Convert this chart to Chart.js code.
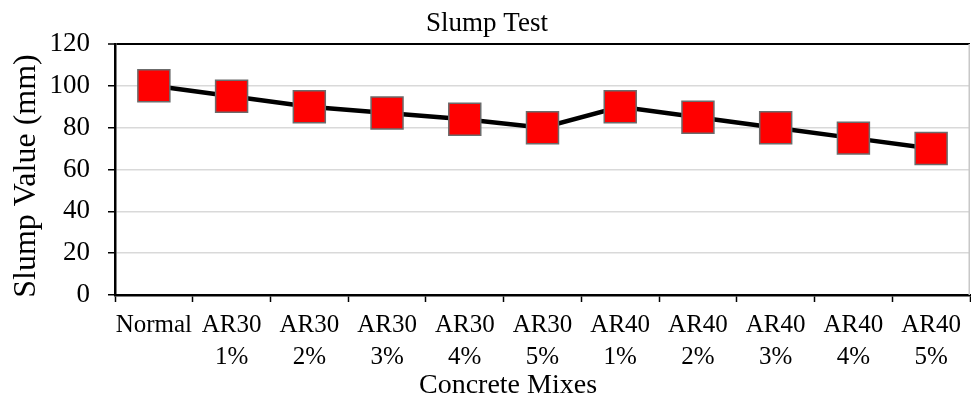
<!DOCTYPE html>
<html lang="en">
<head>
<meta charset="utf-8" />
<title>Slump Test</title>
<script src="https://cdn.jsdelivr.net/npm/chart.js@4/dist/chart.umd.min.js"></script>
<style>
  html, body { margin: 0; padding: 0; background: #fff; }
  #wrap { width: 971px; height: 400px; }
</style>
</head>
<body>
<div id="wrap"><canvas id="myChart"></canvas></div>
<script>
// data
var mixes = [
    'Normal',
    ['AR30', '1%'], ['AR30', '2%'], ['AR30', '3%'], ['AR30', '4%'], ['AR30', '5%'],
    ['AR40', '1%'], ['AR40', '2%'], ['AR40', '3%'], ['AR40', '4%'], ['AR40', '5%']
];
var slump = [100, 95, 90, 87, 84, 80, 90, 85, 80, 75, 70];
var yTicks = [0, 20, 40, 60, 80, 100, 120];

var xTitle = 'Concrete Mixes';
var yTitle = 'Slump Value (mm)';

var serif = '"Liberation Serif", "Times New Roman", serif';

// grey right frame line + axis titles (placed like the original, not centred on the plot)
var extras = {
    id: 'extras',
    beforeDatasetsDraw: function(chart) {
        var a = chart.chartArea, c = chart.ctx;
        c.save();
        c.strokeStyle = '#c8c8c8';
        c.lineWidth = 1.5;
        c.beginPath();
        c.moveTo(a.right - 0.75, a.top);
        c.lineTo(a.right - 0.75, a.bottom);
        c.stroke();
        c.restore();
    },
    afterDraw: function(chart) {
        var c = chart.ctx;
        c.save();
        c.fillStyle = '#000';
        c.textAlign = 'center';
        c.textBaseline = 'middle';
        c.font = '28px ' + serif;
        c.fillText(xTitle, 508, 386);
        c.translate(27, 176);
        c.rotate(-Math.PI / 2);
        c.font = '32px ' + serif;
        c.fillText(yTitle, 0, 0);
        c.restore();
    }
};

var ctx = document.getElementById('myChart');
var myChart = new Chart(ctx, {
    type: 'line',
    data: {
        labels: mixes,
        datasets: [{
            data: slump,
            borderColor: '#000',
            borderWidth: 4.5,
            tension: 0,
            pointStyle: 'rect',
            pointRadius: 22.6,
            pointHoverRadius: 22.6,
            pointBackgroundColor: '#ff0000',
            pointBorderColor: '#6b6b6b',
            pointBorderWidth: 1.5
        }]
    },
    plugins: [extras],
    options: {
        responsive: true,
        maintainAspectRatio: false,
        animation: false,
        layout: { autoPadding: false, padding: { left: 4, right: 1, top: 0, bottom: 0 } },
        plugins: {
            legend: { display: false },
            tooltip: { enabled: false },
            title: {
                display: true,
                text: 'Slump Test',
                color: '#000',
                font: { family: serif, size: 27, weight: 'normal', lineHeight: 1.2 },
                padding: { top: 8, bottom: 3.6 }
            }
        },
        scales: {
            x: {
                offset: true,
                grid: {
                    offset: true,
                    drawOnChartArea: false,
                    tickLength: 7,
                    tickColor: '#000',
                    tickWidth: 1.5
                },
                border: { color: '#000', width: 2.5 },
                ticks: {
                    color: '#000',
                    font: { family: serif, size: 25, lineHeight: 1.3 },
                    maxRotation: 0,
                    autoSkip: false,
                    padding: 7
                },
                afterFit: function(scale) {
                    scale.height = 105;
                }
            },
            y: {
                min: 0,
                max: 120,
                afterBuildTicks: function(scale) {
                    scale.ticks = yTicks.map(function(v) { return { value: v }; });
                },
                grid: {
                    color: function(c) { return c.tick && c.tick.value === 120 ? '#000' : '#d9d9d9'; },
                    lineWidth: function(c) { return c.tick && c.tick.value === 120 ? 2 : 1.5; },
                    tickLength: 7,
                    tickColor: '#000',
                    tickWidth: 1.5
                },
                border: { color: '#000', width: 2.5 },
                ticks: {
                    color: '#000',
                    font: { family: serif, size: 27 },
                    padding: 18
                },
                afterFit: function(scale) { scale.width = 111; }
            }
        }
    }
});
</script>
</body>
</html>
